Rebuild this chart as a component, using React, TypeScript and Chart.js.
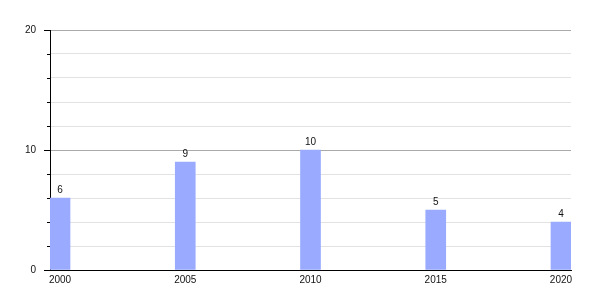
import React, { useEffect, useRef } from "react";
import { Chart, registerables } from "chart.js";

Chart.register(...registerables);

const years = [2000, 2005, 2010, 2015, 2020];
const values = [6, 9, 10, 5, 4];
const yMajorTicks = [0, 10, 20];
const barColor = "#99aaff";
const fontFamily = "'Liberation Sans', Arial, sans-serif";

const labelPlugin = {
  id: "barLabels",
  afterDatasetsDraw(chart: any) {
    const ctx = chart.ctx;
    const meta = chart.getDatasetMeta(0);
    ctx.save();
    ctx.font = `10px ${fontFamily}`;
    ctx.fillStyle = "#111";
    ctx.textAlign = "center";
    ctx.textBaseline = "alphabetic";
    meta.data.forEach((el: any, i: number) => {
      ctx.fillText(String(values[i]), el.x, el.y - 5);
    });
    ctx.restore();
  },
};

const minorTickPlugin = {
  id: "minorTicks",
  afterDraw(chart: any) {
    const ctx = chart.ctx;
    const y = chart.scales.y;
    ctx.save();
    ctx.strokeStyle = "#000";
    ctx.lineWidth = 1;
    y.ticks.forEach((t: any) => {
      if (yMajorTicks.includes(t.value)) return;
      const py = Math.round(y.getPixelForValue(t.value)) + 0.5;
      ctx.beginPath();
      ctx.moveTo(y.right - 3, py);
      ctx.lineTo(y.right, py);
      ctx.stroke();
    });
    ctx.restore();
  },
};

export default function App() {
  const ref = useRef<HTMLCanvasElement>(null);
  useEffect(() => {
    if (!ref.current) return;
    const chart = new Chart(ref.current, {
      type: "bar",
      data: {
        datasets: [
          {
            data: years.map((x, i) => ({ x, y: values[i] })),
            backgroundColor: barColor,
            borderWidth: 0,
            barThickness: 20,
          },
        ],
      },
      options: {
        responsive: false,
        animation: false,
        layout: { padding: { top: 30, right: 29, left: 0, bottom: 0 } },
        plugins: { legend: { display: false }, tooltip: { enabled: false } },
        scales: {
          x: {
            type: "linear",
            offset: false,
            min: 1999.6,
            max: 2020.4,
            afterBuildTicks: (scale: any) => {
              scale.ticks = years.map((v) => ({ value: v }));
            },
            afterFit: (scale: any) => {
              scale.height = 30;
            },
            grid: { display: false, drawTicks: false },
            border: { display: true, color: "#000", width: 1 },
            ticks: {
              padding: 4,
              color: "#111",
              font: { size: 10, family: fontFamily },
              callback: (v: any) => String(v),
              maxRotation: 0,
              autoSkip: false,
            },
          },
          y: {
            min: 0,
            max: 20,
            afterFit: (scale: any) => {
              scale.width = 50;
            },
            grid: {
              color: (c: any) =>
                c.tick && yMajorTicks.includes(c.tick.value) ? "#aaaaaa" : "#e2e2e2",
              tickColor: (c: any) =>
                c.tick && yMajorTicks.includes(c.tick.value) ? "#000" : "rgba(0,0,0,0)",
              tickLength: 6,
            },
            border: { display: true, color: "#000", width: 1 },
            ticks: {
              stepSize: 2,
              padding: 8,
              color: "#111",
              font: { size: 10, family: fontFamily },
              callback: (v: any) => (yMajorTicks.includes(v) ? String(v) : ""),
            },
          },
        },
      },
      plugins: [labelPlugin, minorTickPlugin],
    });
    return () => chart.destroy();
  }, []);
  return (
    <div style={{ position: "fixed", left: 0, top: 0, width: 600, height: 300, background: "#fff" }}>
      <canvas ref={ref} width={600} height={300} style={{ display: "block" }} />
    </div>
  );
}
